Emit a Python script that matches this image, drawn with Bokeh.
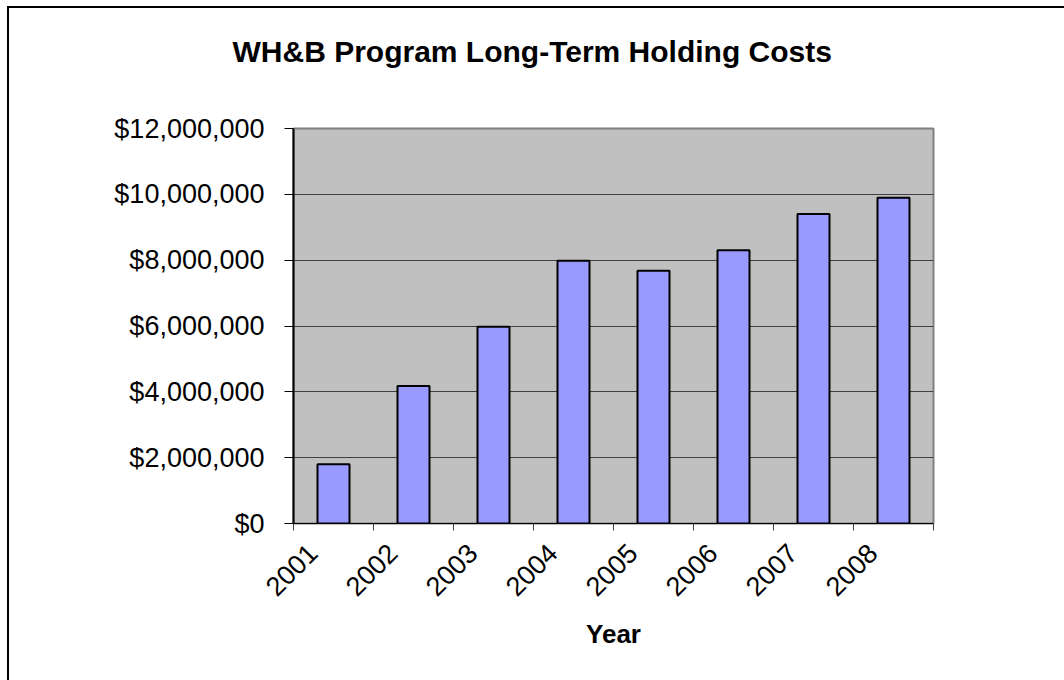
from bokeh.plotting import figure
from bokeh.models import FixedTicker, NumeralTickFormatter, Range1d
from bokeh.embed import file_html
from bokeh.resources import INLINE
import math

years = ["2001", "2002", "2003", "2004", "2005", "2006", "2007", "2008"]
costs = [1800000, 4180000, 5980000, 7980000, 7680000, 8300000, 9400000, 9900000]
y_ticks = [0, 2000000, 4000000, 6000000, 8000000, 10000000, 12000000]
chart_title = "WH&B Program Long-Term Holding Costs"

FONT = "Liberation Sans"
W, H = 1064, 680

xs = [i + 0.5 for i in range(len(years))]

p = figure(width=W, height=H, output_backend="svg", toolbar_location=None,
           x_range=Range1d(0, len(years)), y_range=Range1d(0, y_ticks[-1]),
           min_border_left=293, min_border_right=W - 933, min_border_top=128,
           min_border_bottom=H - 523)

p.background_fill_color = "#C0C0C0"
p.border_fill_color = "white"
p.outline_line_color = "#808080"
p.outline_line_width = 2

p.vbar(x=xs, top=costs, width=0.4, fill_color="#9999FF", line_color="black", line_width=2)

# title: a blank second line lifts the visible line away from the plot frame
p.title.text = chart_title + "\n\u00a0"
p.title.text_font = FONT
p.title.text_font_size = "30px"
p.title.text_font_style = "bold"
p.title.text_color = "black"
p.title.align = "left"
p.title.offset = -61
p.title.standoff = 56
p.title.vertical_align = "bottom"

# x axis
xa = p.xaxis[0]
shift = 0.26
xa.ticker = FixedTicker(ticks=[x - shift for x in xs], minor_ticks=list(range(len(years) + 1)))
xa.major_label_overrides = {x - shift: y for x, y in zip(xs, years)}
xa.major_label_orientation = math.pi / 4
xa.major_label_text_font = FONT
xa.major_label_text_font_size = "27px"
xa.major_label_text_color = "black"
xa.major_tick_out = 0
xa.major_tick_in = 0
xa.minor_tick_out = 7
xa.minor_tick_in = 0
xa.minor_tick_line_color = "#404040"
xa.axis_line_color = "black"
xa.axis_line_width = 1
xa.major_label_standoff = 18
xa.axis_label = "Year"
xa.axis_label_text_font = FONT
xa.axis_label_text_font_size = "26px"
xa.axis_label_text_font_style = "bold"
xa.axis_label_text_color = "black"
xa.axis_label_standoff = 12

# y axis
ya = p.yaxis[0]
ya.ticker = FixedTicker(ticks=y_ticks, minor_ticks=[])
ya.formatter = NumeralTickFormatter(format="$0,0")
ya.major_label_text_font = FONT
ya.major_label_text_font_size = "27px"
ya.major_label_text_color = "black"
ya.major_tick_out = 9
ya.major_tick_in = 0
ya.major_tick_line_color = "black"
ya.axis_line_color = "black"
ya.axis_line_width = 2
ya.major_label_standoff = 20

p.xgrid.visible = False
p.ygrid.ticker = FixedTicker(ticks=y_ticks[1:-1])
p.ygrid.grid_line_color = "#404040"
p.ygrid.grid_line_width = 1

html = file_html(p, INLINE)
# outer chart-area border (left and top edges visible; it continues past the window)
frame_css = ("<style>html,body{margin:0;padding:0;overflow:hidden}"
             "#chart-border{position:fixed;left:7px;top:6px;width:3000px;height:3000px;"
             "border-left:2px solid black;border-top:2px solid black;"
             "pointer-events:none;z-index:10}</style>")
html = html.replace("<head>", "<head>" + frame_css, 1)
html = html.replace("</body>", "<div id=\"chart-border\"></div></body>", 1)
open("out.html", "w").write(html)
